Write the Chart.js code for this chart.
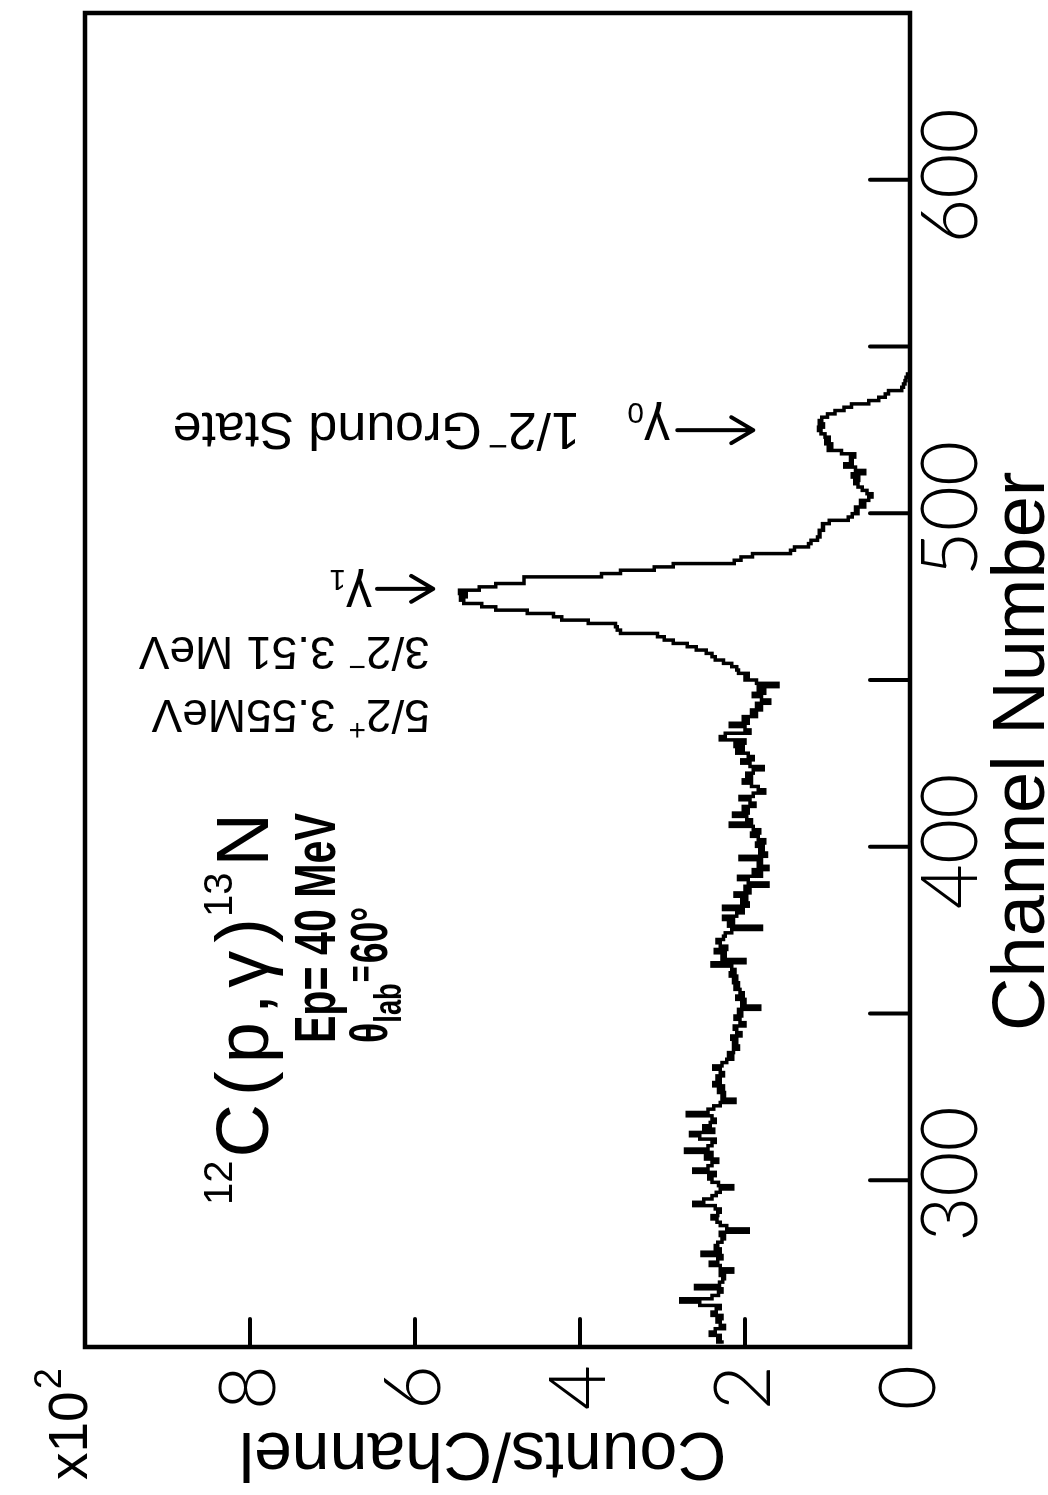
<!DOCTYPE html>
<html>
<head>
<meta charset="utf-8">
<title>12C(p,γ)13N spectrum</title>
<script src="https://cdn.jsdelivr.net/npm/chart.js@4.4.0/dist/chart.umd.min.js"></script>
<style>
  html, body { margin: 0; padding: 0; background: #fff; overflow: hidden; }
  /* the figure is laid out landscape and turned a quarter turn to stand on the page */
  #sheet {
    position: absolute; left: 0; top: 0;
    width: 1495px; height: 1048px;
    transform-origin: 0 0;
    transform: translateY(1495px) rotate(-90deg);
  }
</style>
</head>
<body>
<div id="sheet"><canvas id="spectrum" width="1495" height="1048"></canvas></div>
<script>
// channel of the first histogram bin, one bin per channel after that
const firstChannel = 249;

// counts per channel (x10^2), channels 249..541
const counts = [
  2.28, 2.33, 2.30, 2.42, 2.36, 2.25, 2.30, 2.34, 2.28, 2.40,
  2.35, 2.30, 2.55, 2.78, 2.40, 2.32, 2.28, 2.60, 2.31, 2.27,
  2.25, 2.30, 2.15, 2.30, 2.42, 2.33, 2.28, 2.52, 2.30, 2.36,
  2.33, 2.28, 2.25, 2.30, 1.96, 2.22, 2.30, 2.34, 2.40, 2.33,
  2.30, 2.36, 2.62, 2.50, 2.40, 2.35, 2.30, 2.15, 2.32, 2.40,
  2.44, 2.36, 2.62, 2.45, 2.40, 2.33, 2.48, 2.40, 2.72, 2.45,
  2.40, 2.36, 2.55, 2.66, 2.38, 2.50, 2.42, 2.36, 2.40, 2.70,
  2.45, 2.38, 2.30, 2.12, 2.28, 2.25, 2.32, 2.26, 2.38, 2.30,
  2.34, 2.26, 2.30, 2.38, 2.28, 2.22, 2.15, 2.20, 2.14, 2.08,
  2.14, 2.10, 2.16, 2.05, 2.10, 2.13, 2.00, 2.06, 2.12, 2.04,
  2.08, 1.82, 2.04, 2.00, 2.10, 2.02, 2.06, 2.12, 2.08, 2.14,
  2.10, 2.18, 2.12, 2.16, 2.40, 2.00, 2.28, 2.24, 2.36, 2.22,
  2.30, 2.34, 2.26, 2.24, 2.16, 1.80, 2.20, 2.14, 2.26, 2.10,
  2.02, 2.26, 1.96, 2.04, 1.98, 2.12, 1.94, 2.00, 1.72, 1.96,
  2.08, 1.80, 1.90, 1.72, 1.84, 1.80, 2.06, 1.74, 1.82, 1.78,
  1.86, 1.76, 1.84, 1.92, 1.82, 1.90, 2.18, 1.92, 1.98, 2.14,
  1.96, 2.02, 1.88, 1.94, 2.06, 1.90, 1.76, 1.84, 1.92, 2.02,
  1.92, 1.98, 1.90, 1.78, 1.94, 2.04, 1.90, 1.96, 2.10, 2.02,
  2.12, 2.00, 2.30, 2.24, 1.94, 2.00, 2.18, 1.96, 2.02, 1.86,
  1.92, 1.80, 1.86, 1.70, 1.80, 1.90, 1.76, 1.84, 1.60, 1.86,
  2.00, 1.96, 2.08, 2.10, 2.16, 2.26, 2.36, 2.40, 2.47, 2.59,
  2.70, 2.87, 2.98, 3.06, 3.51, 3.55, 3.57, 3.90, 4.22, 4.32,
  4.64, 5.02, 5.19, 5.41, 5.45, 5.38, 5.46, 5.22, 5.02, 4.68,
  4.68, 3.74, 3.51, 3.10, 2.87, 2.13, 2.05, 1.91, 1.45, 1.40,
  1.23, 1.20, 1.12, 1.09, 1.10, 1.05, 1.06, 0.98, 0.75, 0.70,
  0.63, 0.66, 0.55, 0.60, 0.50, 0.46, 0.52, 0.58, 0.63, 0.67,
  0.62, 0.70, 0.55, 0.66, 0.79, 0.70, 0.72, 0.67, 0.83, 0.99,
  0.95, 1.02, 0.98, 1.03, 1.08, 1.11, 1.05, 1.10, 1.07, 1.00,
  0.91, 0.80, 0.71, 0.50, 0.38, 0.30, 0.26, 0.10, 0.08, 0.06,
  0.05, 0.03, 0.00
];

// axis ranges and labelled ticks
const channelRange = [248, 649];
const channelLabels = [300, 400, 500, 600];
const countRange = [0, 10];
const countLabels = [0, 2, 4, 6, 8];

const points = counts.map((c, i) => ({ x: firstChannel + i, y: c }));

const SANS = '"Liberation Sans", Arial, sans-serif';
const TICKFONT = 'Lato, "DejaVu Sans", sans-serif';

// draws a row of text pieces (for super/subscripts), optionally rotated
function textRun(ctx, parts, x, y, rot, align) {
  ctx.save();
  ctx.translate(x, y);
  if (rot) ctx.rotate(rot);
  ctx.textAlign = 'left';
  ctx.textBaseline = 'alphabetic';
  let total = 0;
  parts.forEach(p => {
    ctx.font = p.font;
    total += (p.dx || 0) + ctx.measureText(p.t).width * (p.sx || 1);
  });
  let cx = align === 'right' ? -total : align === 'center' ? -total / 2 : 0;
  parts.forEach(p => {
    ctx.font = p.font;
    cx += p.dx || 0;
    ctx.save();
    ctx.translate(cx, p.dy || 0);
    if (p.sx) ctx.scale(p.sx, 1);
    ctx.fillText(p.t, 0, 0);
    ctx.restore();
    cx += ctx.measureText(p.t).width * (p.sx || 1);
  });
  ctx.restore();
}

function arrowDown(ctx, x, y0, y1) {
  ctx.beginPath();
  ctx.moveTo(x, y0);
  ctx.lineTo(x, y1);
  ctx.moveTo(x - 13, y1 - 22);
  ctx.lineTo(x, y1);
  ctx.lineTo(x + 13, y1 - 22);
  ctx.stroke();
}

const decor = {
  id: 'decor',
  afterDraw(chart) {
    const { ctx, chartArea: a, scales: { x, y } } = chart;
    const px = v => x.getPixelForValue(v);
    const py = v => y.getPixelForValue(v);
    ctx.save();
    ctx.strokeStyle = '#000';
    ctx.fillStyle = '#000';
    ctx.lineCap = 'round';

    // inward tick marks
    ctx.lineWidth = 4;
    ctx.beginPath();
    x.ticks.forEach(t => {
      if (t.value > channelRange[0] + 5 && t.value < channelRange[1]) {
        ctx.moveTo(px(t.value), a.bottom);
        ctx.lineTo(px(t.value), a.bottom - 40);
      }
    });
    y.ticks.forEach(t => {
      if (t.value > countRange[0] && t.value < countRange[1]) {
        ctx.moveTo(a.left, py(t.value));
        ctx.lineTo(a.left + 28, py(t.value));
      }
    });
    ctx.stroke();

    // channel numbers under the axis
    channelLabels.forEach(v => {
      textRun(ctx, [{ t: String(v), font: '300 78px ' + TICKFONT }], px(v), a.bottom + 67, 0, 'center');
    });

    // frame
    ctx.lineWidth = 4.5;
    ctx.lineCap = 'butt';
    ctx.strokeRect(a.left, a.top, a.right - a.left, a.bottom - a.top);

    // axis titles
    textRun(ctx, [{ t: 'Channel Number', font: '74px ' + SANS }], px(343), chart.height - 4, 0, 'left');
    textRun(ctx, [{ t: 'Counts/Channel', font: '68px ' + SANS }], 62, py(5.18), -Math.PI / 2, 'center');
    textRun(ctx, [
      { t: 'x10', font: '55px ' + SANS },
      { t: '2', font: '38px ' + SANS, dy: -26, dx: 2 }
    ], 15, a.top + 2, 0, 'left');

    // reaction and beam conditions
    const big = '74px ' + SANS, sup = '40px ' + SANS;
    textRun(ctx, [
      { t: '12', font: sup, dy: -36 },
      { t: 'C', font: big, dx: 3 },
      { t: '(', font: big, dx: 8 },
      { t: 'p', font: big, dx: 8 },
      { t: ',', font: big, dx: 8 },
      { t: 'γ', font: big, dx: 6 },
      { t: ')', font: big, dx: 8 },
      { t: '13', font: sup, dy: -36, dx: 1 },
      { t: 'N', font: big, dx: 6 }
    ], px(408.5), py(7.78), 0, 'right');
    textRun(ctx, [{ t: 'Ep= 40 MeV', font: 'bold 58px ' + SANS, sx: 0.71 }],
      px(408.5), py(6.97), 0, 'right');
    textRun(ctx, [
      { t: 'θ', font: 'bold 52px ' + SANS, sx: 0.72 },
      { t: 'lab', font: 'bold 38px ' + SANS, sx: 0.72, dy: 14 },
      { t: '=', font: 'bold 40px ' + SANS, sx: 0.72, dy: -12, dx: 1 },
      { t: '60°', font: 'bold 52px ' + SANS, sx: 0.72, dx: 2 }
    ], px(339.4), py(6.34), 0, 'left');

    // peak labels, set reading upward
    const up = -Math.PI / 2;
    const lab = '46px ' + SANS, small = '30px ' + SANS;
    textRun(ctx, [
      { t: '5/2', font: lab },
      { t: '+', font: small, dy: -20 },
      { t: ' 3.55MeV', font: lab }
    ], px(442.5), py(5.82), up, 'left');
    textRun(ctx, [
      { t: '3/2', font: lab },
      { t: '−', font: small, dy: -20 },
      { t: ' 3.51 MeV', font: lab }
    ], px(461.4), py(5.82), up, 'left');
    textRun(ctx, [
      { t: 'γ', font: '52px ' + SANS },
      { t: '1', font: small, dy: 10 }
    ], px(478.6), py(6.52), up, 'left');
    textRun(ctx, [
      { t: '1/2', font: '52px ' + SANS },
      { t: '−', font: '34px ' + SANS, dy: -22 },
      { t: 'Ground State', font: '52px ' + SANS, dx: 6 }
    ], px(528.8), py(4.0), up, 'left');
    textRun(ctx, [
      { t: 'γ', font: '52px ' + SANS },
      { t: '0', font: small, dy: 10 }
    ], px(528.8), py(2.91), up, 'left');

    ctx.lineWidth = 4;
    ctx.lineCap = 'round';
    ctx.lineJoin = 'round';
    arrowDown(ctx, px(475.9), py(6.46), py(5.78));
    arrowDown(ctx, px(523.6), py(2.82), py(1.90));
    ctx.restore();
  }
};

Chart.defaults.color = '#000';

new Chart(document.getElementById('spectrum').getContext('2d'), {
  type: 'line',
  data: {
    datasets: [{
      data: points,
      borderColor: '#000',
      borderWidth: 3.5,
      pointRadius: 0,
      stepped: 'middle',
      fill: false
    }]
  },
  options: {
    responsive: false,
    animation: false,
    devicePixelRatio: 1,
    layout: { padding: { left: 0, top: 85, right: 13, bottom: 0 } },
    plugins: { legend: { display: false }, tooltip: { enabled: false } },
    scales: {
      x: {
        type: 'linear',
        min: channelRange[0],
        max: channelRange[1],
        border: { display: false },
        grid: { display: false, drawTicks: false },
        afterFit: s => { s.height = 138; },
        ticks: { stepSize: 50, includeBounds: false, display: false }
      },
      y: {
        min: countRange[0],
        max: countRange[1],
        border: { display: false },
        grid: { display: false, drawTicks: false },
        afterFit: s => { s.width = 148; },
        ticks: {
          stepSize: 2,
          padding: 18,
          font: { family: TICKFONT, size: 78, weight: 300, lineHeight: 1 },
          callback: v => (countLabels.includes(v) ? String(v) : '')
        }
      }
    }
  },
  plugins: [decor]
});
</script>
</body>
</html>
